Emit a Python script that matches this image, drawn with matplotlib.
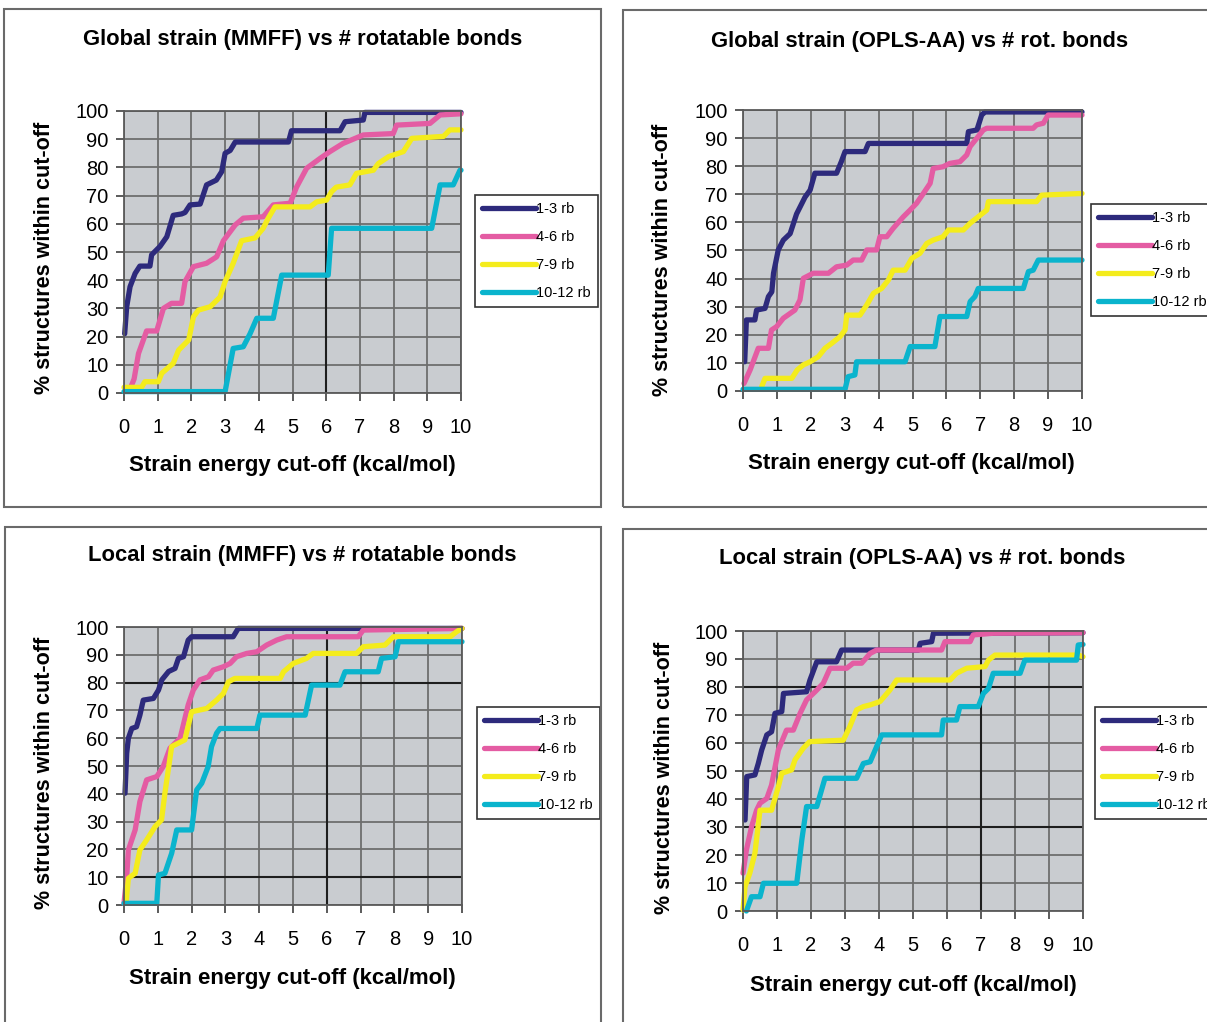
import matplotlib
matplotlib.use("Agg")
import matplotlib.pyplot as plt
from matplotlib.patches import Rectangle

plt.rcParams['font.family'] = ['Liberation Sans', 'DejaVu Sans']

W, H = 1207, 1022

series_names = ["1-3 rb", "4-6 rb", "7-9 rb", "10-12 rb"]
colors = ["#2d2a7c", "#e45ca3", "#f4ec1c", "#0ab4cd"]

x_ticks = list(range(0, 11))
y_ticks = list(range(0, 101, 10))

# --- Global strain (MMFF) ---
g_mmff_13_x = [0.02, 0.08, 0.18, 0.33, 0.47, 0.77, 0.82, 1.07, 1.27, 1.46, 1.71, 1.81, 1.96, 2.26, 2.45, 2.74, 2.9, 3.0, 3.15, 3.3, 4.88, 4.97, 6.41, 6.56, 7.1, 7.15, 10]
g_mmff_13_y = [21, 30.6, 37.7, 42.4, 45, 45, 49, 52, 55.4, 63, 63.5, 64, 66.7, 67, 73.8, 75.5, 78.5, 85, 86, 89, 89, 93, 93, 96.2, 96.8, 99.5, 99.5]
g_mmff_46_x = [0.2, 0.3, 0.43, 0.67, 0.97, 1.17, 1.41, 1.71, 1.81, 2.06, 2.45, 2.75, 2.95, 3.3, 3.54, 4.13, 4.43, 4.93, 5.12, 5.42, 5.82, 6.11, 6.5, 7.1, 7.99, 8.09, 9.08, 9.38, 10]
g_mmff_46_y = [2, 5, 14, 22, 22, 30, 31.8, 31.8, 39.5, 44.8, 46, 48.3, 54, 59.6, 62, 62.5, 66.7, 67.3, 73, 79.7, 83.2, 85.6, 88.5, 91.5, 92, 95, 95.6, 98.6, 99]
g_mmff_79_x = [0, 0.52, 0.62, 1.02, 1.12, 1.46, 1.62, 1.92, 2.06, 2.21, 2.56, 2.85, 3.0, 3.24, 3.49, 3.89, 4.13, 4.28, 4.48, 5.52, 5.72, 6.01, 6.16, 6.3, 6.7, 6.9, 7.4, 7.55, 7.85, 8.29, 8.54, 9.48, 9.67, 10]
g_mmff_79_y = [2, 2, 4, 4, 7, 10.5, 15.2, 18.8, 27, 29.4, 30.6, 34, 39.5, 46, 54, 55, 58.4, 62, 66, 66, 67.8, 68.4, 71.4, 73, 73.8, 77.9, 79, 81.4, 83.8, 85.6, 90.3, 91, 93.3, 93.3]
g_mmff_1012_x = [0, 3.0, 3.24, 3.54, 3.74, 3.94, 4.43, 4.68, 6.06, 6.16, 9.13, 9.38, 9.77, 9.97, 10]
g_mmff_1012_y = [0.5, 0.5, 15.8, 16.4, 21, 26.5, 26.5, 41.8, 41.8, 58.4, 58.4, 73.8, 73.8, 79, 79]

# --- Global strain (OPLS-AA) ---
g_opls_13_x = [0.05, 0.1, 0.35, 0.4, 0.65, 0.75, 0.85, 0.9, 1.04, 1.19, 1.39, 1.58, 1.83, 1.98, 2.12, 2.76, 2.9, 3.01, 3.6, 3.7, 6.6, 6.65, 6.9, 7.04, 7.14, 10]
g_opls_13_y = [10.4, 25.3, 25.3, 28.8, 29.4, 33.6, 35.3, 41.9, 50.2, 53.7, 56, 63, 69, 71.5, 77.5, 77.5, 81.6, 85.2, 85.2, 88.1, 88.1, 92.3, 92.9, 98.2, 99.3, 99.3]
g_opls_46_x = [0.03, 0.21, 0.45, 0.75, 0.84, 0.99, 1.19, 1.53, 1.68, 1.78, 2.07, 2.52, 2.76, 3.06, 3.25, 3.5, 3.65, 3.94, 4.04, 4.24, 4.43, 4.73, 4.93, 5.12, 5.32, 5.52, 5.61, 5.9, 6.1, 6.4, 6.6, 6.7, 6.9, 7.09, 7.19, 8.56, 8.66, 8.86, 9.0, 10]
g_opls_46_y = [2.7, 7.5, 15.2, 15.2, 21.7, 22.9, 25.9, 28.8, 32.4, 40.1, 41.9, 41.9, 44.2, 44.8, 46.6, 46.6, 50.2, 50.2, 54.9, 54.9, 57.9, 62, 64.4, 66.8, 70.3, 73.9, 79.2, 79.8, 81, 81.6, 84, 87, 90, 92.9, 93.5, 93.5, 94.7, 95.3, 98.2, 98.2]
g_opls_79_x = [0.55, 0.65, 1.44, 1.6, 1.78, 1.98, 2.22, 2.42, 2.62, 2.86, 3.01, 3.06, 3.45, 3.65, 3.85, 4.09, 4.29, 4.43, 4.78, 4.98, 5.22, 5.42, 5.61, 5.9, 6.06, 6.5, 6.7, 6.94, 7.19, 7.24, 8.66, 8.81, 10]
g_opls_79_y = [1.5, 4.5, 4.5, 7.5, 9.3, 10.4, 12.2, 15.2, 17, 19.3, 21.7, 27, 27, 30.6, 34.8, 36.5, 39.5, 43, 43, 47.2, 49, 52.5, 53.7, 54.9, 57.3, 57.3, 59.7, 62, 64.4, 67.4, 67.4, 69.7, 70.3]
g_opls_1012_x = [0, 3.01, 3.1, 3.3, 3.35, 4.78, 4.93, 5.66, 5.81, 6.6, 6.7, 6.84, 6.94, 8.27, 8.42, 8.56, 8.71, 10]
g_opls_1012_y = [0.6, 0.6, 5.1, 5.7, 10.4, 10.4, 15.8, 15.8, 26.5, 26.5, 31.8, 33.6, 36.5, 36.5, 42.5, 43, 46.6, 46.6]

# --- Local strain (MMFF) ---
l_mmff_13_x = [0.03, 0.08, 0.13, 0.23, 0.37, 0.47, 0.57, 0.87, 1.02, 1.12, 1.32, 1.51, 1.61, 1.76, 1.9, 2.0, 3.23, 3.38, 10]
l_mmff_13_y = [40.2, 54.6, 60, 63.5, 64.1, 68.3, 73.7, 74.3, 77.3, 81, 84, 85.1, 88.7, 89.3, 95.3, 96.5, 96.5, 99.5, 99.5]
l_mmff_46_x = [0, 0.08, 0.13, 0.23, 0.33, 0.47, 0.67, 0.97, 1.16, 1.36, 1.66, 1.9, 2.05, 2.25, 2.5, 2.64, 2.94, 3.14, 3.33, 3.63, 3.93, 4.22, 4.52, 4.81, 6.93, 7.08, 10]
l_mmff_46_y = [0.6, 10.2, 19.8, 23.4, 27, 37.2, 45, 46.2, 49.8, 56.4, 60, 72, 77.3, 81, 82.1, 84.5, 85.7, 86.9, 89.3, 90.5, 91.1, 93.5, 95.3, 96.5, 96.5, 98.9, 99.5]
l_mmff_79_x = [0.06, 0.13, 0.33, 0.47, 0.67, 0.92, 1.11, 1.21, 1.41, 1.8, 2.0, 2.45, 2.74, 2.94, 3.09, 3.28, 4.62, 4.72, 5.01, 5.4, 5.6, 6.88, 7.08, 7.72, 7.97, 9.65, 9.84, 10]
l_mmff_79_y = [0.6, 9.6, 11.4, 19.8, 23.4, 28.2, 30.6, 40.2, 57, 59.4, 69.5, 70.7, 73.7, 76.1, 80.3, 81.5, 81.5, 83.9, 86.9, 88.7, 90.5, 90.5, 92.9, 93.5, 96.5, 96.5, 98.3, 99.5]
l_mmff_1012_x = [0, 0.97, 1.02, 1.21, 1.41, 1.56, 2.0, 2.15, 2.3, 2.49, 2.59, 2.74, 2.84, 3.93, 4.02, 5.36, 5.55, 6.39, 6.54, 7.52, 7.62, 8.02, 8.12, 10]
l_mmff_1012_y = [0.6, 0.6, 10.8, 11.4, 18.6, 27, 27, 41.4, 43.8, 49.8, 57, 61.8, 63.5, 63.5, 68.3, 68.3, 79.1, 79.1, 83.9, 83.9, 88.7, 89.3, 94.7, 94.7]

# --- Local strain (OPLS-AA) ---
l_opls_13_x = [0.06, 0.11, 0.35, 0.45, 0.55, 0.7, 0.84, 0.94, 1.14, 1.19, 1.87, 1.97, 2.17, 2.75, 2.9, 5.16, 5.21, 5.55, 5.6, 10]
l_opls_13_y = [32.5, 48, 48.6, 52.7, 57.5, 62.9, 64, 70.6, 71.2, 77.7, 78.3, 82.5, 89, 89, 93.2, 93.2, 95.6, 96.2, 99.2, 99.4]
l_opls_46_x = [0, 0.1, 0.25, 0.4, 0.5, 0.7, 0.84, 1.04, 1.28, 1.48, 1.68, 1.87, 2.12, 2.36, 2.56, 3.05, 3.24, 3.49, 3.74, 3.93, 5.84, 5.94, 6.68, 6.77, 7.36, 10]
l_opls_46_y = [13.5, 21.8, 30, 36, 38.5, 40.2, 45, 57.5, 64.6, 64.6, 70.6, 75.4, 78.3, 81.3, 86.7, 86.7, 88.5, 88.5, 92, 93.2, 93.2, 96.2, 96.2, 98.6, 99.2, 99.4]
l_opls_79_x = [0, 0.06, 0.2, 0.35, 0.5, 0.84, 1.04, 1.14, 1.43, 1.53, 1.77, 1.96, 2.95, 3.14, 3.34, 3.54, 3.74, 4.03, 4.32, 4.52, 6.09, 6.28, 6.58, 7.12, 7.22, 7.41, 9.86, 10]
l_opls_79_y = [0.4, 8.7, 13.5, 20.6, 36, 36, 44.4, 49.2, 50.4, 54, 58.1, 60.5, 61, 65.8, 71.8, 73, 73.6, 74.8, 78.9, 82.5, 82.5, 84.9, 86.7, 87.3, 89.6, 91.4, 91.4, 90.8]
l_opls_1012_x = [0.1, 0.25, 0.5, 0.6, 1.58, 1.73, 1.87, 2.17, 2.41, 3.34, 3.54, 3.74, 3.93, 4.08, 5.84, 5.89, 6.28, 6.38, 6.92, 7.07, 7.22, 7.36, 8.15, 8.29, 9.81, 9.86, 10]
l_opls_1012_y = [0, 5.1, 5.1, 9.9, 9.9, 25.4, 37.3, 37.3, 47.4, 47.4, 52.7, 53.3, 58.7, 62.9, 62.9, 68.2, 68.2, 73, 73, 77.7, 79.5, 84.9, 84.9, 89.6, 89.6, 95, 95.2]


def fx(x):
    return x / W


def fy(y):
    return 1 - y / H


fig = plt.figure(figsize=(W / 100, H / 100), dpi=100)

panels = [
    dict(title="Global strain (MMFF) vs # rotatable bonds",
         box=(4, 9, 601, 507), plot=(124, 111, 461, 393),
         title_xy=(303, 39), xlab_xy=(292, 466), ylab_xy=(45, 258),
         leg=(475, 251), dark_h=[], dark_v=[6],
         data=[(g_mmff_13_x, g_mmff_13_y), (g_mmff_46_x, g_mmff_46_y),
               (g_mmff_79_x, g_mmff_79_y), (g_mmff_1012_x, g_mmff_1012_y)]),
    dict(title="Global strain (OPLS-AA) vs # rot. bonds",
         box=(623, 10, 1230, 507), plot=(743, 110, 1082, 391),
         title_xy=(920, 41), xlab_xy=(911, 464), ylab_xy=(663, 260),
         leg=(1091, 260), dark_h=[], dark_v=[],
         data=[(g_opls_13_x, g_opls_13_y), (g_opls_46_x, g_opls_46_y),
               (g_opls_79_x, g_opls_79_y), (g_opls_1012_x, g_opls_1012_y)]),
    dict(title="Local strain (MMFF) vs # rotatable bonds",
         box=(5, 527, 601, 1040), plot=(124, 627, 462, 905),
         title_xy=(302, 556), xlab_xy=(292, 978), ylab_xy=(45, 773),
         leg=(477, 763), dark_h=[80, 10], dark_v=[6],
         data=[(l_mmff_13_x, l_mmff_13_y), (l_mmff_46_x, l_mmff_46_y),
               (l_mmff_79_x, l_mmff_79_y), (l_mmff_1012_x, l_mmff_1012_y)]),
    dict(title="Local strain (OPLS-AA) vs # rot. bonds",
         box=(623, 529, 1230, 1040), plot=(743, 631, 1083, 911),
         title_xy=(922, 558), xlab_xy=(913, 985), ylab_xy=(665, 778),
         leg=(1095, 763), dark_h=[80, 30], dark_v=[7],
         data=[(l_opls_13_x, l_opls_13_y), (l_opls_46_x, l_opls_46_y),
               (l_opls_79_x, l_opls_79_y), (l_opls_1012_x, l_opls_1012_y)]),
]

for p in panels:
    bx0, by0, bx1, by1 = p["box"]
    fig.add_artist(Rectangle((fx(bx0), fy(by1)), (bx1 - bx0) / W, (by1 - by0) / H,
                             transform=fig.transFigure, facecolor="none",
                             edgecolor="#6a6a6a", linewidth=1.5))

    px0, py0, px1, py1 = p["plot"]
    ax = fig.add_axes([fx(px0), fy(py1), (px1 - px0) / W, (py1 - py0) / H])
    ax.set_facecolor("#c9ccd0")
    ax.set_xlim(0, 10)
    ax.set_ylim(0, 100)
    ax.set_xticks(x_ticks)
    ax.set_yticks(y_ticks)
    ax.grid(True, color="#6e6e6e", linewidth=1.3)
    ax.set_axisbelow(True)
    for h in p["dark_h"]:
        ax.axhline(h, color="#1e1e1e", linewidth=1.5, zorder=0.8)
    for v in p["dark_v"]:
        ax.axvline(v, color="#1e1e1e", linewidth=1.5, zorder=0.8)
    for s in ax.spines.values():
        s.set_color("#5a5a5a")
        s.set_linewidth(1.3)
    ax.tick_params(axis="both", labelsize=14.5, color="#404040", length=6, width=1.2)
    ax.tick_params(axis="x", pad=12)
    ax.tick_params(axis="y", pad=5)

    for (xs, ys), name, c in zip(p["data"], series_names, colors):
        ax.plot(xs, ys, color=c, linewidth=3.8, label=name, clip_on=False,
                solid_capstyle="round", solid_joinstyle="round")

    lx, ly = p["leg"]
    leg_ax_x = (lx - px0) / (px1 - px0)
    leg_ax_y = (py1 - ly) / (py1 - py0)
    leg = ax.legend(loc="center left", bbox_to_anchor=(leg_ax_x, leg_ax_y),
                    fontsize=10.5, frameon=True, fancybox=False, framealpha=1,
                    edgecolor="#333333", handlelength=3.7, handletextpad=0.0,
                    labelspacing=0.95, borderpad=0.5, borderaxespad=0)
    leg.get_frame().set_linewidth(1.2)

    fig.text(fx(p["title_xy"][0]), fy(p["title_xy"][1]), p["title"],
             ha="center", va="center", fontsize=15.8, fontweight="bold")
    fig.text(fx(p["xlab_xy"][0]), fy(p["xlab_xy"][1]), "Strain energy cut-off (kcal/mol)",
             ha="center", va="center", fontsize=16, fontweight="bold")
    fig.text(fx(p["ylab_xy"][0]), fy(p["ylab_xy"][1]), "% structures within cut-off",
             ha="center", va="center", fontsize=15.5, fontweight="bold", rotation=90)

fig.savefig("out.png", dpi=100)
